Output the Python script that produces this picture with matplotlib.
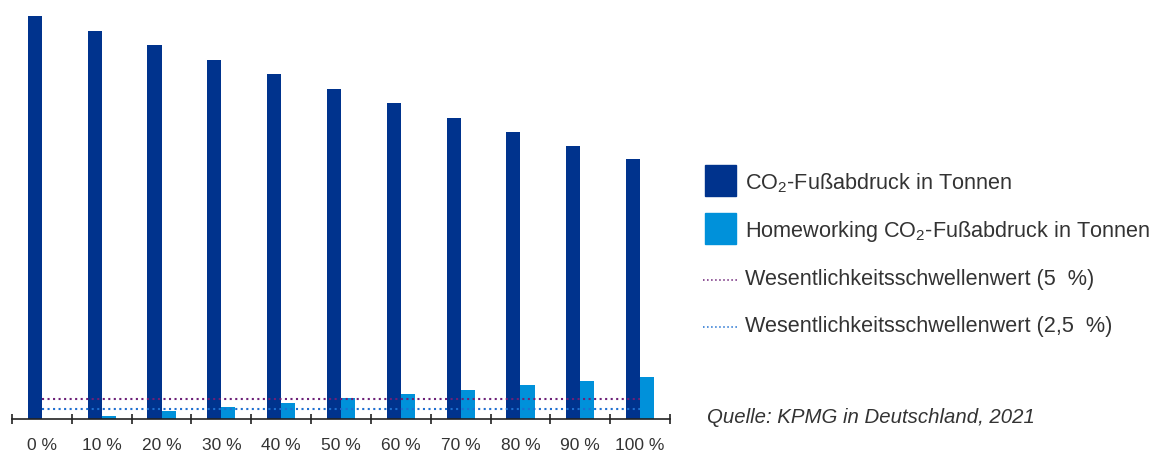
import matplotlib.pyplot as plt
import numpy as np
from matplotlib.patches import Rectangle
from matplotlib.lines import Line2D

# Anteil Homeworking
categories = ['0 %', '10 %', '20 %', '30 %', '40 %', '50 %', '60 %', '70 %', '80 %', '90 %', '100 %']
# CO2-Fussabdruck in Tonnen (relativ, 0 % = 100)
footprint = [100, 96.3, 92.8, 89.1, 85.6, 81.9, 78.5, 74.8, 71.3, 67.8, 64.4]
homeworking = [0, 0.7, 2.0, 3.0, 4.0, 5.2, 6.2, 7.2, 8.4, 9.4, 10.4]
threshold_5 = 5.0
threshold_25 = 2.5

dark_blue = '#00338D'
light_blue = '#0091DA'
purple = '#6D2077'
line_blue = '#1E6FD0'
text_col = '#333333'

plt.rcParams['font.family'] = ['Liberation Sans', 'DejaVu Sans']
plt.rcParams['mathtext.fontset'] = 'custom'
plt.rcParams['mathtext.rm'] = 'Liberation Sans'

W, H = 1172, 452
fig = plt.figure(figsize=(W / 100, H / 100), dpi=100)
ax = fig.add_axes([12 / W, 1 - 420 / H, 658 / W, 403 / H])

x = np.arange(len(categories))
w = 0.235
ax.bar(x, footprint, width=-w, align='edge', color=dark_blue, zorder=2)
ax.bar(x, homeworking, width=w, align='edge', color=light_blue, zorder=2)
ax.plot([0, len(categories) - 1], [threshold_5, threshold_5], color=purple, lw=1.5, ls=':', zorder=3)
ax.plot([0, len(categories) - 1], [threshold_25, threshold_25], color=line_blue, lw=1.5, ls=':', zorder=3)

ax.set_xlim(-0.5, len(categories) - 0.5)
ax.set_ylim(0, 100)
for s in ['top', 'right', 'left']:
    ax.spines[s].set_visible(False)
ax.spines['bottom'].set_color('#222222')
ax.spines['bottom'].set_linewidth(1.2)
ax.set_yticks([])
ax.set_xticks(np.arange(-0.5, len(categories), 1.0))
ax.set_xticklabels([])
ax.tick_params(axis='x', which='major', direction='inout', length=7, width=1.2, color='#222222')
ax.set_xticks(x, minor=True)
ax.set_xticklabels(categories, minor=True, fontsize=12.5, color=text_col)
ax.tick_params(axis='x', which='minor', length=0, pad=13)

# legend, drawn by hand (pixel positions from the top-left corner)
def fx(px):
    return px / W

def fy(py):
    return 1 - py / H

fs = 15.6
labels = ['CO$_2$-Fußabdruck in Tonnen',
          'Homeworking CO$_2$-Fußabdruck in Tonnen',
          'Wesentlichkeitsschwellenwert (5  %)',
          'Wesentlichkeitsschwellenwert (2,5  %)']
baselines = [189, 237, 285, 332]
fig.add_artist(Rectangle((fx(705), fy(197)), 31 / W, 31 / H, color=dark_blue, transform=fig.transFigure))
fig.add_artist(Rectangle((fx(705), fy(245)), 31 / W, 31 / H, color=light_blue, transform=fig.transFigure))
fig.add_artist(Line2D([fx(703), fx(738)], [fy(281), fy(281)], color=purple, lw=1.1, ls=':',
                      transform=fig.transFigure))
fig.add_artist(Line2D([fx(703), fx(738)], [fy(328), fy(328)], color=line_blue, lw=1.1, ls=':',
                      transform=fig.transFigure))
for lab, b in zip(labels, baselines):
    fig.text(fx(745), fy(b), lab, fontsize=fs, color=text_col, va='baseline')

fig.text(fx(707), fy(423), 'Quelle: KPMG in Deutschland, 2021', fontsize=14.7,
         style='italic', color=text_col, va='baseline')

plt.savefig('out.png', dpi=100)
